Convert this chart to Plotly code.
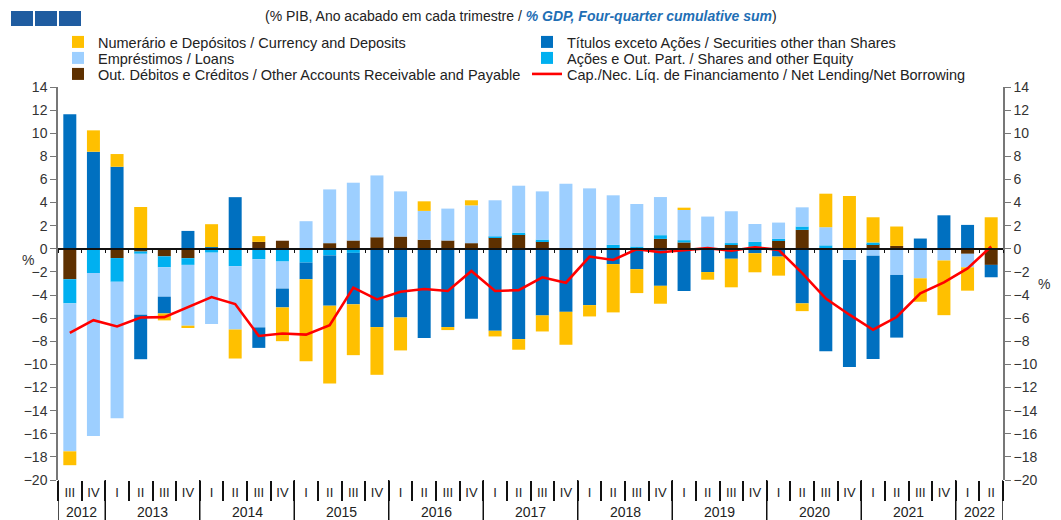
import plotly.graph_objects as go

# ---------------- data ----------------
years = ["2012"] * 2 + [y for y in ["2013", "2014", "2015", "2016", "2017", "2018", "2019", "2020", "2021"] for _ in range(4)] + ["2022"] * 2
quarters = ["III", "IV"] + ["I", "II", "III", "IV"] * 9 + ["I", "II"]

currency = [-1.2, 1.85, 1.1, 3.62, -0.6, -0.2, 1.98, -2.51, 0.5, -2.92,
            -7.1, -6.74, -4.4, -4.13, -2.85, 0.83, -0.26, 0.44, -0.49, -0.92,
            -1.39, -2.85, -0.98, -4.18, -2.07, -1.55, 0.2, -0.66, -2.47, -1.65,
            -1.65, -0.67, 2.9, 4.57, 2.18, 1.68, -2.03, -4.73, -2.02, 2.73]
securities = [11.64, 8.4, 7.1, -3.85, -1.45, 1.55, 0.15, 4.47, -1.77, -1.63,
              -1.44, -4.35, -4.45, -6.77, -5.94, -7.72, -6.77, -6.05, -7.09, -7.81,
              -5.76, -5.45, -4.87, -1.32, -1.76, -3.2, -3.65, -2.01, -0.86, -0.38,
              -0.67, -4.72, -8.87, -9.27, -8.94, -5.42, 0.89, 2.9, 2.07, -1.07]
loans = [-12.8, -14.1, -11.8, -5.27, -2.54, -5.26, -6.18, -5.48, -5.9, -2.34,
         2.39, 4.65, 5.0, 5.35, 3.91, 2.5, 2.76, 3.27, 3.14, 4.06,
         4.17, 5.63, 5.23, 4.28, 3.68, 3.3, 2.61, 2.79, 2.76, 1.55,
         1.41, 1.66, 1.57, -0.96, -0.6, -2.26, -2.45, -1.01, -1.17, 0.0]
shares = [-2.09, -2.1, -2.05, -0.2, -0.95, -0.58, -0.33, -1.5, -0.9, -1.1,
          -1.19, -0.57, -0.35, 0.0, 0.0, 0.0, 0.0, 0.0, 0.08, 0.16,
          0.17, 0.0, 0.0, 0.35, 0.2, 0.32, 0.2, 0.0, 0.15, 0.4,
          0.17, 0.29, 0.3, 0.0, 0.15, 0.0, -0.1, 0.0, 0.0, 0.0]
other_accounts = [-2.63, 0.0, -0.8, -0.23, -0.65, -0.81, 0.0, 0.0, 0.6, 0.7,
                  0.0, 0.49, 0.72, 1.0, 1.06, 0.78, 0.72, 0.49, 0.98, 1.24,
                  0.63, 0.0, 0.0, 0.0, 0.0, 0.86, 0.55, 0.0, 0.34, 0.2,
                  0.69, 1.64, 0.0, 0.0, 0.4, 0.25, 0.0, 0.0, -0.43, -1.39]
net_lending = [-7.27, -6.17, -6.72, -5.94, -5.91, -5.07, -4.17, -4.78, -7.54, -7.33,
               -7.42, -6.61, -3.36, -4.38, -3.71, -3.48, -3.65, -1.91, -3.65, -3.57,
               -2.46, -2.93, -0.67, -0.96, -0.03, -0.29, -0.09, 0.06, -0.17, 0.14,
               -0.09, -2.1, -4.3, -5.7, -7.0, -5.9, -3.85, -2.9, -1.7, 0.2]

y_ticks = list(range(-20, 15, 2))

names = {
    "currency": "Numerário e Depósitos / Currency and Deposits",
    "securities": "Títulos exceto Ações / Securities other than Shares",
    "loans": "Empréstimos / Loans",
    "shares": "Ações e Out. Part. / Shares and other Equity",
    "other": "Out. Débitos e Créditos / Other Accounts Receivable and Payable",
    "line": "Cap./Nec. Líq. de Financiamento / Net Lending/Net Borrowing",
}
colors = {
    "currency": "#FFC000",
    "securities": "#0070C0",
    "loans": "#9DCFFF",
    "shares": "#00B0F0",
    "other": "#5E3000",
    "line": "#FF0000",
}

FONT = "Liberation Sans, Arial, sans-serif"
x_cat = [f"{y} {q}" for y, q in zip(years, quarters)]

fig = go.Figure()
# stacking order (nearest zero first): other, shares, loans, securities, currency
# legend rows: row1 currency|securities, row2 loans|shares, row3 other|line
stack = [("other", other_accounts, "legend3", 1), ("shares", shares, "legend2", 2),
         ("loans", loans, "legend2", 1), ("securities", securities, "legend", 2),
         ("currency", currency, "legend", 1)]
for key, vals, leg, rank in stack:
    fig.add_trace(go.Bar(x=x_cat, y=vals, name=names[key], marker_color=colors[key],
                         marker_line_width=0, legend=leg, legendrank=rank))

fig.add_trace(go.Scatter(x=x_cat, y=net_lending, name=names["line"], mode="lines",
                         line=dict(color=colors["line"], width=2.6),
                         xaxis="x2", yaxis="y2", legend="legend3", legendrank=2))

# plot area in screen pixels (for placing decorations)
PL, PW, PT, PH = 58, 945, 87, 393
def px_x(px):
    return (px - PL) / PW
def px_y(py):
    return (PT + PH - py) / PH

axis_col = "#777777"
tick_font = dict(family=FONT, size=14, color="#333333")
n = len(x_cat)

def legend_row(py):
    return dict(orientation="h", x=0.0, xanchor="left", y=px_y(py), yanchor="middle",
                entrywidth=424, entrywidthmode="pixels", traceorder="normal",
                font=dict(family=FONT, size=14.5, color="#222222"),
                itemwidth=30, bgcolor="rgba(0,0,0,0)")

# the page body adds an 8px offset, so the figure is 8px smaller and margins shifted
fig.update_layout(
    width=1053, height=512,
    margin=dict(l=50, r=58, t=79, b=40, autoexpand=False),
    paper_bgcolor="white", plot_bgcolor="white",
    barmode="relative", bargap=0.45,
    font=dict(family=FONT, size=14, color="#222222"),
    showlegend=True,
    legend=legend_row(42),
    legend2=legend_row(58),
    legend3=legend_row(74),
    xaxis=dict(type="category", categoryorder="array", categoryarray=x_cat,
               range=[-0.5, n - 0.5], tickvals=x_cat, ticktext=quarters,
               showgrid=False, zeroline=False, showline=False,
               ticks="outside", tickson="boundaries", ticklen=20, tickcolor="#111111",
               tickwidth=1.5, tickangle=0,
               tickfont=dict(family=FONT, size=13, color="#222222"),
               ticklabelstandoff=3),
    xaxis2=dict(type="category", categoryorder="array", categoryarray=x_cat,
                overlaying="x", anchor="free", position=20 / 34,
                range=[-0.5, n - 0.5], showgrid=False, zeroline=False, showline=True,
                linecolor="#111111", linewidth=1.5, ticks="outside", tickson="boundaries",
                ticklen=3, tickcolor="#111111", showticklabels=False),
    yaxis=dict(range=[-20, 14], tickvals=y_ticks, showgrid=False, zeroline=False,
               showline=True, linecolor=axis_col, linewidth=1.5, ticks="outside",
               ticklen=6, tickcolor=axis_col, tickfont=tick_font),
    yaxis2=dict(range=[-20, 14], tickvals=y_ticks, overlaying="y", side="right",
                showgrid=False, zeroline=False, showline=True, linecolor=axis_col,
                linewidth=1.5, ticks="outside", ticklen=6, tickcolor=axis_col,
                tickfont=tick_font),
)

# year group labels and dividers, derived from the years list
bounds = [-0.5]
for i in range(1, n):
    if years[i] != years[i - 1]:
        bounds.append(i - 0.5)
bounds.append(n - 0.5)
for b in bounds:
    fig.add_shape(type="line", xref="x", yref="paper", x0=b, x1=b,
                  y0=px_y(522), y1=0, line=dict(color="#111111", width=1.5))
for a, b in zip(bounds[:-1], bounds[1:]):
    fig.add_annotation(x=(a + b) / 2, y=px_y(512), xref="x", yref="paper",
                       text=years[int(a + 0.5)], showarrow=False, yanchor="middle",
                       font=dict(family=FONT, size=14, color="#222222"))

fig.add_annotation(x=px_x(521), y=px_y(16), xref="paper", yref="paper", showarrow=False,
                   yanchor="middle",
                   text="(% PIB, Ano acabado em cada trimestre / "
                        "<b><i><span style='color:#1F6FB5'>% GDP, Four-quarter cumulative sum</span></i></b>)",
                   font=dict(family=FONT, size=14, color="#222222"))
fig.add_annotation(x=px_x(20), y=px_y(260), xref="paper", yref="paper", showarrow=False,
                   text="%", font=dict(family=FONT, size=14, color="#333333"))
fig.add_annotation(x=px_x(1052), y=px_y(284), xref="paper", yref="paper", showarrow=False,
                   text="%", font=dict(family=FONT, size=14, color="#333333"))

# logo squares
for x0, x1 in [(11, 33), (35, 57), (59, 81)]:
    fig.add_shape(type="rect", xref="paper", yref="paper",
                  x0=px_x(x0), x1=px_x(x1), y0=px_y(26), y1=px_y(11),
                  fillcolor="#1F5CA0", line=dict(width=0))

fig.write_html("out.html")
